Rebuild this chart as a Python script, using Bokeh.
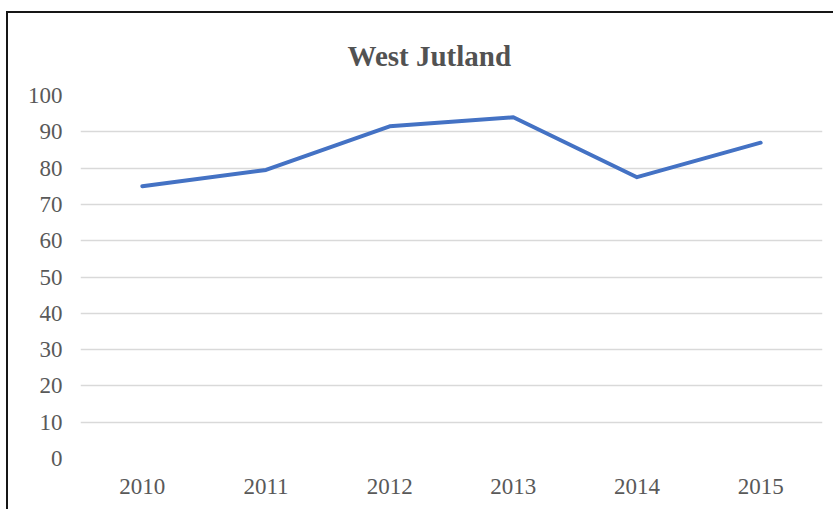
from bokeh.plotting import figure
from bokeh.models import Range1d, FixedTicker
from bokeh.embed import file_html
from bokeh.resources import INLINE

# Yearly index values for West Jutland
years = ["2010", "2011", "2012", "2013", "2014", "2015"]
values = [75, 79.5, 91.5, 94, 77.5, 87]
y_ticks = [0, 10, 20, 30, 40, 50, 60, 70, 80, 90, 100]

SERIF = "Liberation Serif"
TEXT_GREY = "#595959"
FRAME_INK = "#161616"

p = figure(
    x_range=years,
    y_range=Range1d(0, 100),
    width=833,
    height=509,
    output_backend="svg",
    toolbar_location=None,
    min_border_left=80,
    min_border_right=11,
    min_border_top=95,
    min_border_bottom=51,
    title="West Jutland",
)
# dark chart frame along the top and left edges, painted behind a transparent canvas
p.styles = {
    "background-image": f"linear-gradient({FRAME_INK}, {FRAME_INK}), linear-gradient({FRAME_INK}, {FRAME_INK})",
    "background-size": "100% 2px, 2px 100%",
    "background-position": "6px 11px, 6px 11px",
    "background-repeat": "no-repeat",
}

p.outline_line_color = None
p.background_fill_color = "white"
p.border_fill_alpha = 0

p.title.align = "left"
p.title.offset = 267
p.title.vertical_align = "top"
p.title.standoff = 44
p.title.text_font = SERIF
p.title.text_font_style = "bold"
p.title.text_font_size = "29px"
p.title.text_color = "#525252"

p.line(x=years, y=values, line_color="#4472C4", line_width=4, line_join="round", line_cap="round")

p.yaxis.ticker = FixedTicker(ticks=y_ticks)
for ax in (p.xaxis[0], p.yaxis[0]):
    ax.axis_line_color = None
    ax.major_tick_line_color = None
    ax.minor_tick_line_color = None
    ax.major_label_text_font = SERIF
    ax.major_label_text_font_size = "23px"
    ax.major_label_text_color = TEXT_GREY
p.yaxis.major_label_standoff = 12
p.xaxis.major_label_standoff = 14

p.xgrid.grid_line_color = None
p.ygrid.grid_line_color = "#d9d9d9"
p.ygrid.grid_line_width = 1.5

open("out.html", "w").write(file_html(p, INLINE))
